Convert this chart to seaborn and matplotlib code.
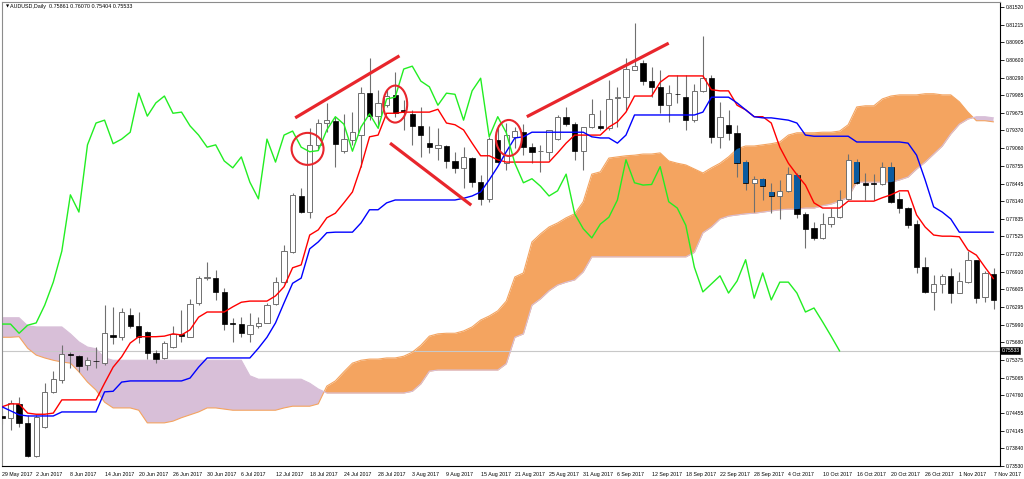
import numpy as np
import pandas as pd
import matplotlib
matplotlib.use("Agg")
import matplotlib.pyplot as plt
from matplotlib.path import Path
from matplotlib.patches import Ellipse
import seaborn as sns

sns.set_theme(style="white")
plt.rcParams['font.family'] = ['Liberation Sans', 'DejaVu Sans']

# ---- AUDUSD daily, 29 May 2017 .. 7 Nov 2017 ----
dates = pd.bdate_range("2017-05-29", periods=117)

open_ = [0.7440, 0.7437, 0.7461, 0.7428, 0.7370, 0.7421, 0.7482, 0.7503, 0.7548, 0.7544,
         0.7529, 0.7536, 0.7532, 0.7581, 0.7577, 0.7616, 0.7597, 0.7586, 0.7550, 0.7541,
         0.7560, 0.7582, 0.7578, 0.7637, 0.7680, 0.7680, 0.7656, 0.7601, 0.7600, 0.7583,
         0.7597, 0.7602, 0.7635, 0.7673, 0.7725, 0.7823, 0.7795, 0.7912, 0.7950, 0.7954,
         0.7901, 0.7921, 0.7929, 0.8002, 0.7962, 0.7981, 0.7999, 0.7973, 0.7966, 0.7945,
         0.7915, 0.7907, 0.7910, 0.7884, 0.7872, 0.7889, 0.7847, 0.7818, 0.7921, 0.7880,
         0.7926, 0.7934, 0.7908, 0.7901, 0.7900, 0.7922, 0.7961, 0.7948, 0.7901, 0.7943,
         0.7945, 0.7941, 0.7994, 0.7995, 0.8042, 0.8055, 0.8023, 0.8013, 0.7981, 0.8001,
         0.7995, 0.7955, 0.8006, 0.8028, 0.7926, 0.7947, 0.7933, 0.7882, 0.7846, 0.7853,
         0.7830, 0.7823, 0.7832, 0.7860, 0.7792, 0.7767, 0.7750, 0.7774, 0.7786, 0.7818,
         0.7882, 0.7846, 0.7845, 0.7844, 0.7874, 0.7818, 0.7802, 0.7774, 0.7699, 0.7656,
         0.7670, 0.7684, 0.7654, 0.7673, 0.7712, 0.7647, 0.7687]
high = [0.7449, 0.7468, 0.7473, 0.7442, 0.7442, 0.7497, 0.7518, 0.7564, 0.7551, 0.7546,
        0.7543, 0.7560, 0.7633, 0.7630, 0.7628, 0.7628, 0.7621, 0.7588, 0.7555, 0.7571,
        0.7597, 0.7625, 0.7644, 0.7684, 0.7708, 0.7694, 0.7663, 0.7611, 0.7612, 0.7619,
        0.7612, 0.7637, 0.7682, 0.7738, 0.7828, 0.7837, 0.7941, 0.7957, 0.7985, 0.7961,
        0.7966, 0.7969, 0.8013, 0.8063, 0.8008, 0.8008, 0.8039, 0.7990, 0.7973, 0.7978,
        0.7945, 0.7941, 0.7912, 0.7900, 0.7908, 0.7891, 0.7860, 0.7926, 0.7947, 0.7950,
        0.7943, 0.7948, 0.7915, 0.7912, 0.7938, 0.7964, 0.7978, 0.7952, 0.7943, 0.7992,
        0.7973, 0.8025, 0.8013, 0.8063, 0.8124, 0.8060, 0.8048, 0.8042, 0.8016, 0.8034,
        0.8034, 0.8018, 0.8102, 0.8034, 0.7987, 0.7973, 0.7947, 0.7886, 0.7858, 0.7854,
        0.7846, 0.7851, 0.7874, 0.7863, 0.7795, 0.7778, 0.7793, 0.7802, 0.7833, 0.7896,
        0.7887, 0.7863, 0.7861, 0.7882, 0.7882, 0.7830, 0.7804, 0.7781, 0.7717, 0.7685,
        0.7687, 0.7698, 0.7691, 0.7727, 0.7712, 0.7692, 0.7698]
low = [0.7426, 0.7416, 0.7421, 0.7369, 0.7369, 0.7419, 0.7480, 0.7497, 0.7524, 0.7517,
       0.7520, 0.7524, 0.7529, 0.7565, 0.7572, 0.7593, 0.7567, 0.7539, 0.7532, 0.7539,
       0.7558, 0.7569, 0.7577, 0.7633, 0.7677, 0.7642, 0.7590, 0.7569, 0.7577, 0.7569,
       0.7593, 0.7601, 0.7633, 0.7671, 0.7724, 0.7793, 0.7785, 0.7903, 0.7934, 0.7874,
       0.7898, 0.7912, 0.7874, 0.7955, 0.7941, 0.7978, 0.7961, 0.7938, 0.7912, 0.7891,
       0.7898, 0.7886, 0.7872, 0.7863, 0.7837, 0.7839, 0.7807, 0.7813, 0.7880, 0.7868,
       0.7907, 0.7894, 0.7880, 0.7865, 0.7886, 0.7921, 0.7945, 0.7886, 0.7868, 0.7941,
       0.7938, 0.7938, 0.7943, 0.7973, 0.8042, 0.8016, 0.7995, 0.7967, 0.7952, 0.7985,
       0.7938, 0.7952, 0.8004, 0.7915, 0.7907, 0.7921, 0.7856, 0.7833, 0.7795, 0.7816,
       0.7793, 0.7783, 0.7830, 0.7785, 0.7732, 0.7746, 0.7748, 0.7769, 0.7785, 0.7816,
       0.7844, 0.7816, 0.7816, 0.7842, 0.7811, 0.7793, 0.7767, 0.7689, 0.7654, 0.7625,
       0.7654, 0.7637, 0.7654, 0.7671, 0.7637, 0.7638, 0.7626]
close = [0.7437, 0.7463, 0.7428, 0.7370, 0.7438, 0.7482, 0.7504, 0.7548, 0.7546, 0.7527,
         0.7537, 0.7535, 0.7584, 0.7578, 0.7621, 0.7597, 0.7578, 0.7550, 0.7539, 0.7567,
         0.7583, 0.7580, 0.7635, 0.7680, 0.7682, 0.7656, 0.7600, 0.7600, 0.7584, 0.7598,
         0.7602, 0.7633, 0.7673, 0.7727, 0.7825, 0.7795, 0.7912, 0.7950, 0.7955, 0.7914,
         0.7922, 0.7934, 0.8002, 0.7962, 0.7985, 0.7997, 0.7967, 0.7969, 0.7945, 0.7929,
         0.7908, 0.7912, 0.7884, 0.7872, 0.7891, 0.7847, 0.7818, 0.7922, 0.7882, 0.7929,
         0.7936, 0.7908, 0.7900, 0.7902, 0.7938, 0.7961, 0.7948, 0.7901, 0.7943, 0.7966,
         0.7941, 0.7992, 0.7995, 0.8044, 0.8049, 0.8023, 0.8013, 0.7981, 0.8002, 0.8000,
         0.7955, 0.8006, 0.8028, 0.7926, 0.7961, 0.7933, 0.7880, 0.7846, 0.7853, 0.7840,
         0.7823, 0.7832, 0.7861, 0.7792, 0.7766, 0.7750, 0.7774, 0.7786, 0.7816, 0.7886,
         0.7846, 0.7842, 0.7843, 0.7874, 0.7813, 0.7802, 0.7772, 0.7699, 0.7656, 0.7670,
         0.7684, 0.7654, 0.7675, 0.7712, 0.7645, 0.7689, 0.7642]

tenkan = [0.7456, 0.7461, 0.7461, 0.7445, 0.7443, 0.7443, 0.7445, 0.7468, 0.7468, 0.7468,
          0.7468, 0.7468, 0.7497, 0.7525, 0.7543, 0.7567, 0.7578, 0.7578, 0.7578, 0.7579,
          0.7583, 0.7581, 0.7590, 0.7612, 0.7621, 0.7621, 0.7621, 0.7630, 0.7638, 0.7640,
          0.7640, 0.7640, 0.7649, 0.7665, 0.7698, 0.7703, 0.7755, 0.7764, 0.7785, 0.7793,
          0.7811, 0.7830, 0.7874, 0.7926, 0.7929, 0.7967, 0.7967, 0.7969, 0.7969, 0.7969,
          0.7969, 0.7974, 0.7950, 0.7947, 0.7938, 0.7915, 0.7893, 0.7893, 0.7886, 0.7882,
          0.7882, 0.7882, 0.7882, 0.7882, 0.7882, 0.7898, 0.7915, 0.7929, 0.7929, 0.7929,
          0.7929, 0.7943, 0.7952, 0.7969, 0.7997, 0.7997, 0.7997, 0.8021, 0.8032, 0.8032,
          0.8032, 0.8032, 0.8032, 0.8008, 0.8006, 0.8006, 0.7981, 0.7973, 0.7961, 0.7961,
          0.7950, 0.7908, 0.7880, 0.7860, 0.7842, 0.7811, 0.7802, 0.7802, 0.7802, 0.7814,
          0.7814, 0.7814, 0.7814, 0.7820, 0.7825, 0.7832, 0.7832, 0.7790, 0.7769, 0.7755,
          0.7753, 0.7753, 0.7752, 0.7729, 0.7720, 0.7699, 0.7679]
kijun = [0.7456, 0.7449, 0.7442, 0.7440, 0.7440, 0.7440, 0.7440, 0.7447, 0.7447, 0.7447,
         0.7447, 0.7447, 0.7482, 0.7483, 0.7499, 0.7501, 0.7501, 0.7501, 0.7501, 0.7501,
         0.7501, 0.7501, 0.7506, 0.7525, 0.7541, 0.7541, 0.7541, 0.7541, 0.7541, 0.7541,
         0.7558, 0.7577, 0.7602, 0.7637, 0.7671, 0.7680, 0.7731, 0.7743, 0.7759, 0.7760,
         0.7760, 0.7760, 0.7776, 0.7799, 0.7799, 0.7811, 0.7816, 0.7816, 0.7816, 0.7816,
         0.7816, 0.7816, 0.7816, 0.7816, 0.7819, 0.7823, 0.7830, 0.7851, 0.7874, 0.7900,
         0.7924, 0.7926, 0.7934, 0.7934, 0.7934, 0.7934, 0.7934, 0.7934, 0.7934, 0.7926,
         0.7924, 0.7924, 0.7915, 0.7929, 0.7964, 0.7964, 0.7964, 0.7964, 0.7964, 0.7964,
         0.7964, 0.7964, 0.7969, 0.7995, 0.7995, 0.7995, 0.7985, 0.7973, 0.7961, 0.7959,
         0.7959, 0.7957, 0.7955, 0.7950, 0.7929, 0.7927, 0.7927, 0.7927, 0.7927, 0.7927,
         0.7917, 0.7917, 0.7917, 0.7917, 0.7917, 0.7917, 0.7915, 0.7894, 0.7851, 0.7804,
         0.7795, 0.7783, 0.7760, 0.7760, 0.7760, 0.7760, 0.7760]
# lagging span = closes 26 bars later; these closes lie right of the visible window
chikou_tail = [0.7673, 0.7673, 0.7654, 0.7621, 0.7628, 0.7604, 0.7579, 0.7553]

span_a = [0.7577, 0.7577, 0.7578, 0.7558, 0.7546, 0.7541, 0.7537, 0.7534, 0.7532, 0.7517,
          0.7499, 0.7485, 0.7464, 0.7454, 0.7454, 0.7454, 0.7450, 0.7428, 0.7428, 0.7428,
          0.7431, 0.7437, 0.7442, 0.7447, 0.7454, 0.7454, 0.7452, 0.7450, 0.7450, 0.7450,
          0.7450, 0.7450, 0.7450, 0.7454, 0.7457, 0.7457, 0.7457, 0.7461, 0.7492, 0.7501,
          0.7517, 0.7532, 0.7537, 0.7539, 0.7539, 0.7541, 0.7541, 0.7544, 0.7551, 0.7563,
          0.7579, 0.7583, 0.7584, 0.7584, 0.7588, 0.7595, 0.7607, 0.7614, 0.7623, 0.7640,
          0.7682, 0.7689, 0.7743, 0.7757, 0.7769, 0.7776, 0.7785, 0.7792, 0.7813, 0.7861,
          0.7865, 0.7889, 0.7891, 0.7893, 0.7894, 0.7896, 0.7896, 0.7898, 0.7884, 0.7880,
          0.7877, 0.7870, 0.7863, 0.7872, 0.7880, 0.7891, 0.7905, 0.7910, 0.7910, 0.7912,
          0.7914, 0.7917, 0.7929, 0.7933, 0.7933, 0.7933, 0.7934, 0.7934, 0.7936, 0.7947,
          0.7978, 0.7980, 0.7980, 0.7992, 0.7997, 0.7999, 0.7999, 0.7999, 0.8001, 0.8001,
          0.7999, 0.7999, 0.7987, 0.7969, 0.7954, 0.7954, 0.7952]
span_b = [0.7611, 0.7611, 0.7611, 0.7597, 0.7595, 0.7595, 0.7595, 0.7595, 0.7583, 0.7569,
          0.7560, 0.7557, 0.7541, 0.7537, 0.7537, 0.7537, 0.7537, 0.7537, 0.7537, 0.7537,
          0.7537, 0.7537, 0.7537, 0.7537, 0.7537, 0.7537, 0.7537, 0.7537, 0.7537, 0.7510,
          0.7504, 0.7504, 0.7504, 0.7504, 0.7504, 0.7504, 0.7497, 0.7487, 0.7480, 0.7480,
          0.7480, 0.7480, 0.7480, 0.7480, 0.7480, 0.7480, 0.7480, 0.7480, 0.7483, 0.7496,
          0.7518, 0.7520, 0.7520, 0.7520, 0.7520, 0.7520, 0.7520, 0.7520, 0.7520, 0.7531,
          0.7577, 0.7583, 0.7633, 0.7644, 0.7658, 0.7668, 0.7673, 0.7677, 0.7691, 0.7717,
          0.7717, 0.7717, 0.7717, 0.7717, 0.7717, 0.7717, 0.7717, 0.7717, 0.7717, 0.7717,
          0.7717, 0.7725, 0.7759, 0.7769, 0.7783, 0.7788, 0.7790, 0.7792, 0.7793, 0.7795,
          0.7797, 0.7799, 0.7800, 0.7800, 0.7802, 0.7802, 0.7806, 0.7809, 0.7814, 0.7821,
          0.7847, 0.7847, 0.7847, 0.7847, 0.7847, 0.7851, 0.7856, 0.7870, 0.7882, 0.7896,
          0.7910, 0.7931, 0.7948, 0.7957, 0.7961, 0.7961, 0.7959]

last_price = 0.75533
title_text = "AUDUSD,Daily  0.75861 0.76070 0.75404 0.75533"
price_labels = ["0.81520", "0.81215", "0.80905", "0.80600", "0.80290", "0.79985", "0.79675",
                "0.79370", "0.79060", "0.78755", "0.78445", "0.78140", "0.77835", "0.77525",
                "0.77220", "0.76910", "0.76605", "0.76295", "0.75990", "0.75680", "0.75375",
                "0.75065", "0.74760", "0.74455", "0.74145", "0.73840", "0.73530"]

# hand-drawn marks on the chart: (bar, price) pairs
trend_lines = [((34.3, 0.7959), (46.5, 0.8067)),
               ((45.4, 0.7915), (54.9, 0.7807)),
               ((61.4, 0.7961), (78.0, 0.8089))]
circles = [(35.75, 0.7905, 3.74, 0.00557),
           (46.0, 0.7983, 2.81, 0.00644),
           (59.3, 0.7924, 3.04, 0.00627)]

# ---- build ----
bars = np.arange(len(close))
o = np.array(open_)
c = np.array(close)
a = np.array(span_a)
b = np.array(span_b)
chikou = close[26:] + chikou_tail

lines = pd.DataFrame({"bar": bars, "tenkan": tenkan, "kijun": kijun})
lag = pd.DataFrame({"bar": bars[:len(chikou)], "chikou": chikou})

fig = plt.figure(figsize=(10.24, 4.79), dpi=100)
ax = fig.add_axes([2 / 1024, 13 / 479, 998 / 1024, 464 / 479])

# cloud
orange = ax.fill_between(bars, a, b, where=a >= b, interpolate=True,
                         color="#f4a460", lw=0, zorder=1)
purple = ax.fill_between(bars, a, b, where=a < b, interpolate=True,
                         color="#d8bfd8", lw=0, zorder=1)
ax.plot(bars, a, color="#f4a460", lw=0.8, zorder=1.5)
ax.plot(bars, b, color="#d8bfd8", lw=0.8, zorder=1.5)

ax.axhline(last_price, color="#c8c8c8", lw=0.8, zorder=1.2)

# candles
up = c >= o
body_lo = np.minimum(o, c)
body_h = np.maximum(np.abs(c - o), 0.00006)
ax.vlines(bars, low, high, color="#707070", lw=0.8, zorder=2)
ax.bar(bars[up], body_h[up], bottom=body_lo[up], width=0.62,
       color="white", edgecolor="#707070", lw=0.7, zorder=3)
ax.bar(bars[~up], body_h[~up], bottom=body_lo[~up], width=0.62,
       color="black", edgecolor="black", lw=0.5, zorder=3)

# bearish bodies inside the orange cloud come out blue (MT4 inverted drawing)
clip = Path.make_compound_path(*orange.get_paths())
tinted = ax.bar(bars[~up], body_h[~up], bottom=body_lo[~up], width=0.62,
                color="#0b5b9f", lw=0, zorder=3.5)
for patch in tinted.patches:
    patch.set_clip_path(clip, ax.transData)

# ichimoku lines
sns.lineplot(data=lines, x="bar", y="tenkan", color="#ff0000", lw=1, ax=ax, zorder=4)
sns.lineplot(data=lines, x="bar", y="kijun", color="#0000ff", lw=1, ax=ax, zorder=4)
sns.lineplot(data=lag, x="bar", y="chikou", color="#22ee22", lw=1, ax=ax, zorder=4)

# annotations
for (x0, y0), (x1, y1) in trend_lines:
    ax.plot([x0, x1], [y0, y1], color="#e8262c", lw=2.3, solid_capstyle="butt", zorder=5)
for cx, cy, w, h in circles:
    ax.add_patch(Ellipse((cx, cy), w, h, fill=False, edgecolor="#e8262c", lw=1.5, zorder=5))

# axes
ax.set_xlim(0.035, 116.76)
ax.set_ylim(0.73529, 0.81607)
ax.set_xlabel("")
ax.set_ylabel("")

tick_bars = bars[::4]
ax.set_xticks(tick_bars)
ax.set_xticklabels([f"{d.day} {d.strftime('%b %Y')}" for d in dates[tick_bars]], ha="left")
ax.yaxis.tick_right()
ax.set_yticks([float(s) for s in price_labels])
ax.set_yticklabels(price_labels)
ax.tick_params(axis="both", direction="out", length=3, width=0.6, color="black",
               labelsize=3.6, labelcolor="black")
ax.tick_params(axis="x", pad=1.2, labelsize=3.8)
ax.tick_params(axis="y", pad=0.8)

for side in ["left", "top"]:
    ax.spines[side].set_color("#8c8c8c")
    ax.spines[side].set_linewidth(0.8)
for side in ["right", "bottom"]:
    ax.spines[side].set_color("black")
    ax.spines[side].set_linewidth(0.8)

ax.text(0.0035, 0.9905, "\u25bc", transform=ax.transAxes, fontsize=3.0,
        family=["DejaVu Sans"], ha="left", va="center", color="black")
ax.text(0.0085, 0.9905, title_text, transform=ax.transAxes, fontsize=3.9,
        ha="left", va="center", color="black")

ax.text(1.0015, last_price, f"{last_price:.5f}", transform=ax.get_yaxis_transform(),
        fontsize=3.6, color="white", ha="left", va="center", clip_on=False,
        bbox=dict(boxstyle="square,pad=0.2", fc="black", ec="black", lw=0.4), zorder=6)

fig.savefig("out.png", dpi=100)
